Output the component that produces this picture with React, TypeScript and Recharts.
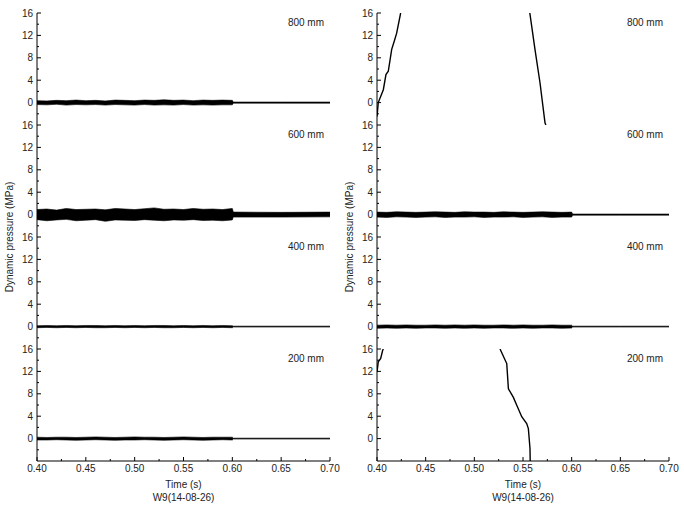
import { ComposedChart, Area, Line, XAxis, YAxis } from 'recharts';

// time axis of the noise envelopes (s)
const bandTimes = [
  0.4, 0.41, 0.42, 0.43, 0.44, 0.45, 0.46, 0.47, 0.48, 0.49, 0.5, 0.51, 0.52, 0.53, 0.54, 0.55, 0.56, 0.57,
  0.58, 0.59, 0.6, 0.601, 0.65, 0.7,
];

// left column envelopes (MPa)
const l800Hi = [0.35, 0.3, 0.4, 0.35, 0.45, 0.35, 0.4, 0.3, 0.45, 0.4, 0.35, 0.45, 0.4, 0.5, 0.4, 0.45, 0.35, 0.45, 0.4, 0.45, 0.4, 0.1, 0.1, 0.1];
const l800Lo = [-0.35, -0.4, -0.3, -0.45, -0.35, -0.4, -0.35, -0.45, -0.35, -0.4, -0.45, -0.35, -0.45, -0.4, -0.45, -0.35, -0.45, -0.4, -0.45, -0.4, -0.4, -0.1, -0.1, -0.1];
const l600Hi = [0.9, 1.0, 0.8, 1.1, 0.9, 0.95, 1.0, 0.85, 1.1, 1.0, 0.9, 1.05, 1.2, 0.95, 1.0, 0.9, 1.1, 0.95, 1.0, 0.9, 1.1, 0.45, 0.4, 0.45];
const l600Lo = [-0.9, -1.1, -0.95, -0.85, -1.1, -1.0, -0.9, -1.2, -0.95, -1.0, -1.05, -0.9, -1.0, -1.1, -0.95, -1.0, -0.9, -1.05, -1.0, -1.1, -0.95, -0.45, -0.45, -0.4];
const l400Hi = [0.15, 0.2, 0.15, 0.2, 0.15, 0.2, 0.2, 0.15, 0.2, 0.15, 0.2, 0.15, 0.2, 0.2, 0.15, 0.2, 0.15, 0.2, 0.15, 0.2, 0.15, 0.08, 0.08, 0.08];
const l400Lo = [-0.2, -0.15, -0.2, -0.15, -0.2, -0.15, -0.2, -0.2, -0.15, -0.2, -0.15, -0.2, -0.15, -0.2, -0.2, -0.15, -0.2, -0.15, -0.2, -0.15, -0.2, -0.08, -0.08, -0.08];
const l200Hi = [0.25, 0.2, 0.25, 0.25, 0.2, 0.25, 0.3, 0.25, 0.2, 0.25, 0.3, 0.25, 0.25, 0.2, 0.25, 0.3, 0.25, 0.2, 0.25, 0.25, 0.25, 0.08, 0.08, 0.08];
const l200Lo = [-0.25, -0.25, -0.2, -0.25, -0.3, -0.25, -0.2, -0.25, -0.3, -0.25, -0.25, -0.2, -0.25, -0.3, -0.25, -0.2, -0.25, -0.3, -0.25, -0.2, -0.25, -0.08, -0.08, -0.08];

// right column envelopes (MPa)
const r600Hi = [0.45, 0.4, 0.5, 0.45, 0.4, 0.45, 0.5, 0.45, 0.4, 0.5, 0.45, 0.45, 0.4, 0.5, 0.45, 0.4, 0.45, 0.5, 0.45, 0.4, 0.45, 0.1, 0.1, 0.1];
const r600Lo = [-0.45, -0.5, -0.4, -0.45, -0.5, -0.45, -0.4, -0.5, -0.45, -0.45, -0.4, -0.5, -0.45, -0.45, -0.4, -0.5, -0.45, -0.4, -0.5, -0.45, -0.45, -0.1, -0.1, -0.1];
const r400Hi = [0.25, 0.3, 0.25, 0.3, 0.25, 0.25, 0.3, 0.25, 0.3, 0.25, 0.3, 0.25, 0.25, 0.3, 0.25, 0.3, 0.25, 0.25, 0.3, 0.25, 0.25, 0.08, 0.08, 0.08];
const r400Lo = [-0.3, -0.25, -0.3, -0.25, -0.3, -0.25, -0.25, -0.3, -0.25, -0.3, -0.25, -0.3, -0.25, -0.25, -0.3, -0.25, -0.3, -0.25, -0.25, -0.3, -0.25, -0.08, -0.08, -0.08];

// steep pressure traces on the right column
const r800RiseT = [0.4, 0.4013, 0.4065, 0.4092, 0.4116, 0.4151, 0.4178, 0.4202, 0.4243];
const r800RiseV = [-2.5, 0, 2.3, 5, 5.6, 9.5, 11, 12.4, 16];
const r800FallT = [0.557, 0.5623, 0.5675, 0.5726, 0.5735];
const r800FallV = [16, 9.5, 3.5, -3.6, -4];
const r200RiseT = [0.4, 0.4013, 0.4038, 0.4059, 0.4065];
const r200RiseV = [11.9, 13.7, 14.3, 15.8, 16];
const r200FallT = [0.5264, 0.5333, 0.535, 0.54, 0.5437, 0.5487, 0.5538, 0.5555, 0.5572, 0.5574];
const r200FallV = [16, 13.4, 8.9, 7.4, 5.9, 3.9, 2.7, 1.8, -1.8, -4];

const xTicks = [0.4, 0.425, 0.45, 0.475, 0.5, 0.525, 0.55, 0.575, 0.6, 0.625, 0.65, 0.675, 0.7];
const yTicks = [-2, 0, 2, 4, 6, 8, 10, 12, 14, 16];
const depths = ['800 mm', '600 mm', '400 mm', '200 mm'];

const FONT = '"Liberation Sans", Arial, Helvetica, sans-serif';
const INK = '#000';
const TXT = '#222';
const GAP = 3;

const bandRows = (hi: number[] | null, lo: number[] | null) =>
  hi && lo ? bandTimes.map((t, i) => ({ t, band: [lo[i], hi[i]] })) : [];
const trace = (ts: number[], vs: number[]) => ts.map((t, i) => ({ t, v: vs[i] }));

const isMajorX = (v: number) => Math.round(v * 1000) % 50 === 0;
const isMajorY = (v: number) => v % 4 === 0;

function LeftTick(p: any) {
  const v = p.payload.value;
  const major = isMajorY(v);
  const ax = p.x + GAP;
  return (
    <g>
      <line x1={ax} x2={ax + (major ? 4 : 2)} y1={p.y} y2={p.y} stroke={INK} />
      {major && (
        <text x={p.x - 1} y={p.y} dy={3.5} textAnchor="end" fontSize={10} fill={TXT} fontFamily={FONT}>
          {v}
        </text>
      )}
    </g>
  );
}

function RightTick(p: any) {
  const major = isMajorY(p.payload.value);
  const ax = p.x - GAP;
  return <line x1={ax} x2={ax - (major ? 4 : 2)} y1={p.y} y2={p.y} stroke={INK} />;
}

function TopTick(p: any) {
  const major = isMajorX(p.payload.value);
  const ay = p.y + GAP;
  return <line x1={p.x} x2={p.x} y1={ay} y2={ay + (major ? 4 : 2)} stroke={INK} />;
}

function BottomTick(p: any) {
  const v = p.payload.value;
  const major = isMajorX(v);
  const ay = p.y - GAP;
  return (
    <g>
      <line x1={p.x} x2={p.x} y1={ay} y2={ay - (major ? 4 : 2)} stroke={INK} />
      {p.showLabel && major && (
        <text x={p.x} y={p.y} dy={8} textAnchor="middle" fontSize={10} fill={TXT} fontFamily={FONT}>
          {v.toFixed(2)}
        </text>
      )}
    </g>
  );
}

interface PanelProps {
  left: number;
  top: number;
  plotW: number;
  bottom: boolean;
  band: Array<{ t: number; band: number[] }>;
  traces: Array<Array<{ t: number; v: number }>>;
}

const PANEL_H = 112;
const RIGHT_PAD = 16;

function Panel({ left, top, plotW, bottom, band, traces }: PanelProps) {
  const xh = bottom ? 20 : 0;
  const w = 40 + plotW + RIGHT_PAD;
  const h = 8 + PANEL_H + 4 + xh;
  return (
    <div style={{ position: 'absolute', left: left - 40, top: top - 8 }}>
      <ComposedChart width={w} height={h} data={band} margin={{ top: 8, right: RIGHT_PAD, left: 0, bottom: 4 }}>
        <XAxis
          xAxisId="b"
          dataKey="t"
          type="number"
          domain={[0.4, 0.7]}
          ticks={xTicks}
          interval={0}
          allowDataOverflow
          height={xh}
          tickSize={0}
          tickMargin={GAP}
          tickLine={false}
          axisLine={{ stroke: INK }}
          tick={(p: any) => <BottomTick {...p} showLabel={bottom} />}
        />
        <XAxis
          xAxisId="t"
          orientation="top"
          dataKey="t"
          type="number"
          domain={[0.4, 0.7]}
          ticks={xTicks}
          interval={0}
          allowDataOverflow
          height={0}
          tickSize={0}
          tickMargin={GAP}
          tickLine={false}
          axisLine={{ stroke: INK }}
          tick={(p: any) => <TopTick {...p} />}
        />
        <YAxis
          yAxisId="l"
          type="number"
          domain={[-4, 16]}
          ticks={yTicks}
          interval={0}
          allowDataOverflow
          width={40}
          tickSize={0}
          tickMargin={GAP}
          tickLine={false}
          axisLine={{ stroke: INK }}
          tick={(p: any) => <LeftTick {...p} />}
        />
        <YAxis
          yAxisId="r"
          orientation="right"
          type="number"
          domain={[-4, 16]}
          ticks={yTicks}
          interval={0}
          allowDataOverflow
          width={0}
          tickSize={0}
          tickMargin={GAP}
          tickLine={false}
          axisLine={{ stroke: INK }}
          tick={(p: any) => <RightTick {...p} />}
        />
        {band.length > 0 && (
          <Area
            xAxisId="b"
            yAxisId="l"
            dataKey="band"
            type="linear"
            stroke={INK}
            strokeWidth={0.6}
            fill={INK}
            fillOpacity={1}
            dot={false}
            activeDot={false}
            isAnimationActive={false}
          />
        )}
        {traces.map((d, i) => (
          <Line
            key={i}
            xAxisId="b"
            yAxisId="l"
            data={d}
            dataKey="v"
            type="linear"
            stroke={INK}
            strokeWidth={1.4}
            dot={false}
            activeDot={false}
            isAnimationActive={false}
          />
        ))}
      </ComposedChart>
    </div>
  );
}

const columns = [
  {
    left: 37,
    plotW: 293,
    bands: [bandRows(l800Hi, l800Lo), bandRows(l600Hi, l600Lo), bandRows(l400Hi, l400Lo), bandRows(l200Hi, l200Lo)],
    traces: [[], [], [], []] as Array<Array<Array<{ t: number; v: number }>>>,
  },
  {
    left: 377,
    plotW: 292,
    bands: [bandRows(null, null), bandRows(r600Hi, r600Lo), bandRows(r400Hi, r400Lo), bandRows(null, null)],
    traces: [
      [trace(r800RiseT, r800RiseV), trace(r800FallT, r800FallV)],
      [],
      [],
      [trace(r200RiseT, r200RiseV), trace(r200FallT, r200FallV)],
    ],
  },
];

const panelTops = [13, 125, 237, 349];

const textStyle: React.CSSProperties = {
  position: 'absolute',
  fontFamily: FONT,
  fontSize: 10,
  color: TXT,
  lineHeight: '12px',
  whiteSpace: 'nowrap',
};

export default function App() {
  return (
    <div style={{ position: 'absolute', left: 0, top: 0, width: 684, height: 509, background: '#fff', overflow: 'hidden' }}>
      {columns.map((col, ci) => (
        <div key={ci}>
          {panelTops.map((top, pi) => (
            <Panel
              key={pi}
              left={col.left}
              top={top}
              plotW={col.plotW}
              bottom={pi === 3}
              band={col.bands[pi]}
              traces={col.traces[pi]}
            />
          ))}
          {panelTops.map((top, pi) => (
            <div key={'d' + pi} style={{ ...textStyle, left: col.left + col.plotW - 66, width: 60, top: top + 4, textAlign: 'right' }}>
              {depths[pi]}
            </div>
          ))}
          <div
            style={{
              ...textStyle,
              left: col.left - 27 - 100,
              top: 237 - 6,
              width: 200,
              textAlign: 'center',
              transform: 'rotate(-90deg)',
            }}
          >
            Dynamic pressure (MPa)
          </div>
          <div style={{ ...textStyle, left: col.left + col.plotW / 2 - 60, width: 120, top: 479, textAlign: 'center' }}>
            Time (s)
          </div>
          <div style={{ ...textStyle, left: col.left + col.plotW / 2 - 60, width: 120, top: 492, textAlign: 'center' }}>
            W9(14-08-26)
          </div>
        </div>
      ))}
    </div>
  );
}
